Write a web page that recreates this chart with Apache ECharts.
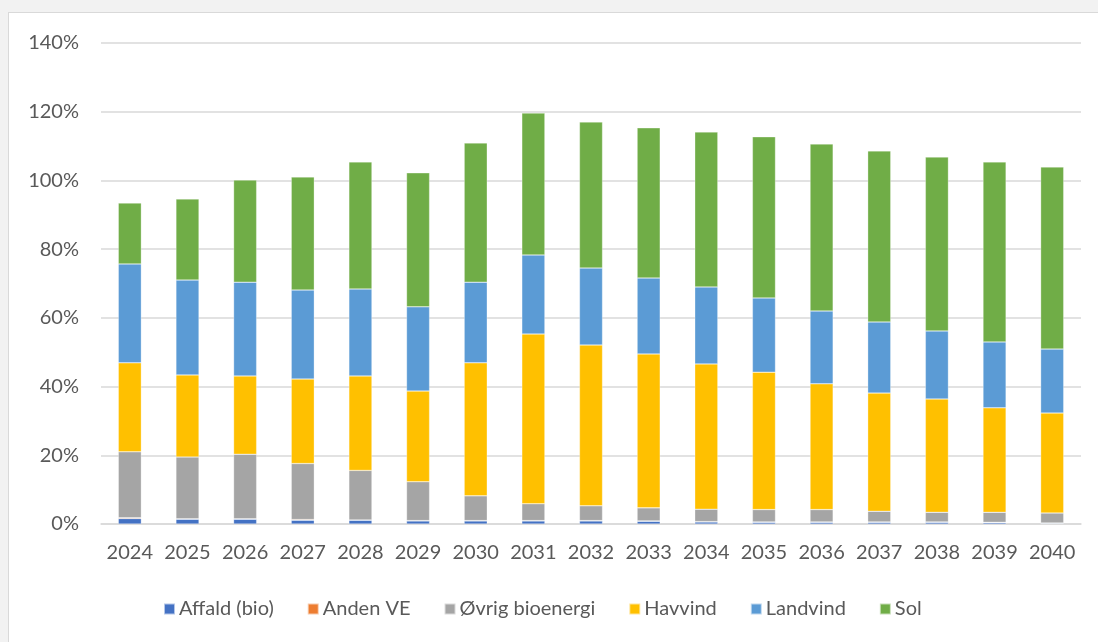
<!DOCTYPE html>
<html>
<head>
<meta charset="utf-8">
<script src="https://cdn.jsdelivr.net/npm/echarts@6/dist/echarts.min.js"></script>
<style>
  html, body { margin: 0; padding: 0; background: #f2f2f2; }
  #chart {
    position: absolute; left: 8px; top: 12px;
    width: 1090px; height: 630px;
    background: #fff;
    border-left: 1px solid #d9d9d9; border-top: 1px solid #d9d9d9;
  }
</style>
</head>
<body>
<div id="chart"></div>
<script>
// år
const years = ['2024', '2025', '2026', '2027', '2028', '2029', '2030', '2031', '2032',
  '2033', '2034', '2035', '2036', '2037', '2038', '2039', '2040']

// andele i procent
const affald = [1.6, 1.4, 1.4, 1.1, 1.1, 0.9, 0.9, 0.9, 0.9, 0.8, 0.6, 0.5, 0.5, 0.5, 0.5, 0.4, 0.2]
const andenVE = [0.2, 0.1, 0.1, 0.2, 0.1, 0.1, 0.1, 0.1, 0.1, 0.1, 0.1, 0.1, 0.1, 0.1, 0.1, 0.1, 0.1]
const oevrigBio = [19.2, 18.0, 18.8, 16.3, 14.4, 11.3, 7.2, 4.9, 4.3, 3.8, 3.6, 3.6, 3.6, 3.1, 2.8, 2.9, 2.9]
const havvind = [25.9, 23.9, 22.8, 24.6, 27.5, 26.4, 38.7, 49.4, 46.8, 44.8, 42.3, 40.0, 36.6, 34.4, 33.0, 30.4, 29.1]
const landvind = [28.8, 27.6, 27.3, 25.9, 25.3, 24.5, 23.5, 23.0, 22.4, 22.1, 22.4, 21.6, 21.2, 20.7, 19.8, 19.2, 18.6]
const sol = [17.7, 23.6, 29.7, 32.9, 37.0, 39.0, 40.5, 41.3, 42.5, 43.7, 45.1, 46.9, 48.6, 49.8, 50.6, 52.4, 53.0]

const textColor = '#595959'
const font = 'Lato'

function bar(name, data, color) {
  return {
    name: name,
    type: 'bar',
    stack: 'total',
    barWidth: '40%',
    data: data,
    itemStyle: { color: color, borderColor: 'rgba(255,255,255,0.6)', borderWidth: 0.5 }
  }
}

const myChart = echarts.init(document.getElementById('chart'))
myChart.setOption({
  animation: false,
  textStyle: { fontFamily: font },
  grid: { left: 92, top: 30, width: 980, height: 481 },
  legend: {
    left: 149,
    top: 581,
    itemWidth: 11,
    itemHeight: 11,
    itemGap: 33,
    icon: 'rect',
    textStyle: { color: textColor, fontSize: 20, fontFamily: font, padding: [0, 0, 0, -1] },
    data: ['Affald (bio)', 'Anden VE', 'Øvrig bioenergi', 'Havvind', 'Landvind', 'Sol']
  },
  xAxis: {
    type: 'category',
    data: years,
    axisLine: { lineStyle: { color: '#d9d9d9', width: 1.5 } },
    axisTick: { show: false },
    axisLabel: { color: textColor, fontSize: 20, fontFamily: font, margin: 19, interval: 0 }
  },
  yAxis: {
    type: 'value',
    min: 0,
    max: 140,
    interval: 20,
    axisLine: { show: false },
    axisTick: { show: false },
    splitLine: { lineStyle: { color: '#d9d9d9', width: 1.5 } },
    axisLabel: { color: textColor, fontSize: 20, fontFamily: font, margin: 22, formatter: '{value}%' }
  },
  series: [
    bar('Affald (bio)', affald, '#4472c4'),
    bar('Anden VE', andenVE, '#ed7d31'),
    bar('Øvrig bioenergi', oevrigBio, '#a5a5a5'),
    bar('Havvind', havvind, '#ffc000'),
    bar('Landvind', landvind, '#5b9bd5'),
    bar('Sol', sol, '#70ad47')
  ]
})
</script>
</body>
</html>
